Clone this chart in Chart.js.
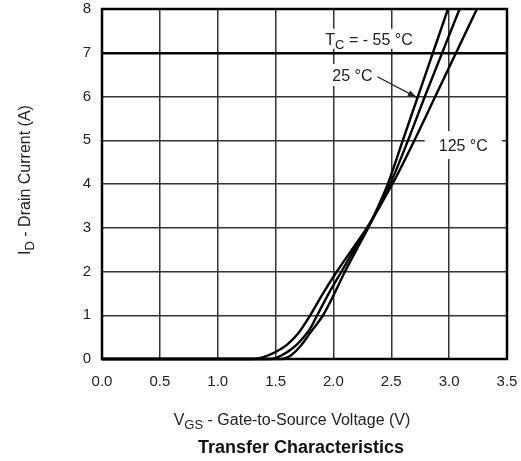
<!DOCTYPE html>
<html>
<head>
<meta charset="utf-8">
<script src="https://cdn.jsdelivr.net/npm/chart.js@4.4.1/dist/chart.umd.min.js"></script>
<style>
  html, body { margin: 0; padding: 0; background: #fff; }
  #wrap { width: 521px; height: 461px; position: relative; }
</style>
</head>
<body>
<div id="wrap"><canvas id="c" width="521" height="461"></canvas></div>
<script>
// Gate-to-source voltage (V) and drain current (A) for each case temperature
const seriesNames = ['TC = -55 °C', '25 °C', '125 °C'];
const vgsM55 = [0, 1.55, 1.62, 1.71, 1.80, 1.91, 2.00, 2.10, 2.20, 2.30, 2.47, 2.60, 2.73, 2.86, 2.99];
const idM55  = [0, 0,    0.06, 0.28, 0.60, 1.00, 1.45, 2.00, 2.50, 3.00, 4.00, 5.00, 6.00, 7.00, 8.00];
const vgs25  = [0, 1.45, 1.55, 1.65, 1.71, 1.80, 1.86, 1.96, 2.07, 2.18, 2.30, 2.49, 2.645, 2.79, 2.94, 3.09];
const id25   = [0, 0,    0.08, 0.25, 0.40, 0.70, 1.00, 1.50, 2.00, 2.50, 3.00, 4.00, 5.00, 6.00, 7.00, 8.00];
const vgs125 = [0, 1.30, 1.40, 1.50, 1.60, 1.70, 1.80, 1.91, 2.03, 2.16, 2.29, 2.51, 2.70, 2.88, 3.06, 3.24];
const id125  = [0, 0,    0.05, 0.16, 0.33, 0.60, 1.00, 1.50, 2.00, 2.50, 3.00, 4.00, 5.00, 6.00, 7.00, 8.00];
const xTicks = [0, 0.5, 1.0, 1.5, 2.0, 2.5, 3.0, 3.5];
const yTicks = [0, 1, 2, 3, 4, 5, 6, 7, 8];

const toPts = (xs, ys) => xs.map((x, i) => ({ x: x, y: ys[i] }));
const FONT = "'Liberation Sans', Arial, sans-serif";

function mkSet(label, xs, ys) {
  return {
    label: label,
    data: toPts(xs, ys),
    borderColor: '#000',
    borderWidth: 2.4,
    pointRadius: 0,
    fill: false,
    cubicInterpolationMode: 'monotone',
    clip: 2
  };
}

function drawSubText(ctx, parts, x, y, size, align) {
  const subSize = Math.round(size * 0.8);
  let total = 0;
  parts.forEach(p => {
    ctx.font = (p[1] ? subSize : size) + 'px ' + FONT;
    total += ctx.measureText(p[0]).width;
  });
  let cx = align === 'center' ? x - total / 2 : x;
  ctx.textAlign = 'left';
  ctx.textBaseline = 'alphabetic';
  parts.forEach(p => {
    ctx.font = (p[1] ? subSize : size) + 'px ' + FONT;
    ctx.fillText(p[0], cx, y + (p[1] ? size * 0.25 : 0));
    cx += ctx.measureText(p[0]).width;
  });
  return total;
}

const labelsPlugin = {
  id: 'labels',
  afterDraw(chart) {
    const ctx = chart.ctx;
    const xs = chart.scales.x, ys = chart.scales.y;
    ctx.save();
    ctx.fillStyle = '#222';
    // Y axis title (rotated)
    ctx.save();
    ctx.translate(25, 180);
    ctx.rotate(-Math.PI / 2);
    drawSubText(ctx, [['I', false], ['D', true], [' - Drain Current (A)', false]], 0, 5, 16, 'center');
    ctx.restore();
    // X axis title
    drawSubText(ctx, [['V', false], ['GS', true], [' - Gate-to-Source Voltage (V)', false]], 292, 425, 16, 'center');
    // Caption
    ctx.font = 'bold 18px ' + FONT;
    ctx.textAlign = 'center';
    ctx.textBaseline = 'alphabetic';
    ctx.fillStyle = '#111';
    ctx.fillText('Transfer Characteristics', 301, 453);

    // In-plot annotations
    const size = 16;
    function boxLabel(parts, vx, vy, padX, padY) {
      const px = xs.getPixelForValue(vx), py = ys.getPixelForValue(vy);
      let total = 0;
      parts.forEach(p => { ctx.font = (p[1] ? Math.round(size * 0.8) : size) + 'px ' + FONT; total += ctx.measureText(p[0]).width; });
      ctx.fillStyle = '#fff';
      ctx.fillRect(px - padX, py - 9 - padY, total + 2 * padX, 18 + 2 * padY);
      ctx.fillStyle = '#222';
      drawSubText(ctx, parts, px, py + 6, size, 'left');
    }
    boxLabel([['T', false], ['C', true], [' = - 55 °C', false]], 1.93, 7.32, 3, 1);
    boxLabel([['25 °C', false]], 1.99, 6.49, 3, 2);
    boxLabel([['125 °C', false]], 2.91, 4.89, 14, 5);

    // Arrow for 25 °C
    const ax0 = xs.getPixelForValue(2.38), ay0 = ys.getPixelForValue(6.45);
    const ax1 = xs.getPixelForValue(2.72), ay1 = ys.getPixelForValue(5.98);
    ctx.strokeStyle = '#222';
    ctx.lineWidth = 1.2;
    ctx.beginPath(); ctx.moveTo(ax0, ay0); ctx.lineTo(ax1, ay1); ctx.stroke();
    const ang = Math.atan2(ay1 - ay0, ax1 - ax0);
    ctx.fillStyle = '#222';
    ctx.beginPath();
    ctx.moveTo(ax1, ay1);
    ctx.lineTo(ax1 - 9 * Math.cos(ang) + 3 * Math.sin(ang), ay1 - 9 * Math.sin(ang) - 3 * Math.cos(ang));
    ctx.lineTo(ax1 - 9 * Math.cos(ang) - 3 * Math.sin(ang), ay1 - 9 * Math.sin(ang) + 3 * Math.cos(ang));
    ctx.closePath(); ctx.fill();

    // Outer frame
    const a = chart.chartArea;
    ctx.strokeStyle = '#000';
    ctx.lineWidth = 2.5;
    ctx.strokeRect(a.left, a.top, a.right - a.left, a.bottom - a.top);
    ctx.restore();
  }
};

new Chart(document.getElementById('c'), {
  type: 'line',
  data: {
    datasets: [
      mkSet(seriesNames[0], vgsM55, idM55),
      mkSet(seriesNames[1], vgs25, id25),
      mkSet(seriesNames[2], vgs125, id125)
    ]
  },
  options: {
    responsive: false,
    animation: false,
    devicePixelRatio: 1,
    layout: { padding: { top: 9, right: 14, left: 0, bottom: 0 } },
    plugins: { legend: { display: false }, tooltip: { enabled: false } },
    scales: {
      x: {
        type: 'linear', min: 0, max: 3.5,
        afterBuildTicks: s => { s.ticks = xTicks.map(v => ({ value: v })); },
        afterFit: s => { s.height = 102; s.paddingLeft = 0; s.paddingRight = 0; },
        ticks: { padding: 14, color: '#222', font: { size: 15, family: FONT }, callback: v => v.toFixed(1), maxRotation: 0 },
        grid: { color: '#333', lineWidth: 1.5, drawTicks: false },
        border: { display: false }
      },
      y: {
        type: 'linear', min: 0, max: 8,
        afterBuildTicks: s => { s.ticks = yTicks.map(v => ({ value: v })); },
        afterFit: s => { s.width = 102; s.paddingTop = 0; s.paddingBottom = 0; },
        ticks: { padding: 11, color: '#222', font: { size: 15, family: FONT }, callback: v => String(v) },
        grid: {
          color: ctx => (ctx.tick && ctx.tick.value === 7) ? '#000' : '#333',
          lineWidth: ctx => (ctx.tick && ctx.tick.value === 7) ? 2.5 : 1.5,
          drawTicks: false
        },
        border: { display: false }
      }
    }
  },
  plugins: [labelsPlugin]
});
</script>
</body>
</html>
